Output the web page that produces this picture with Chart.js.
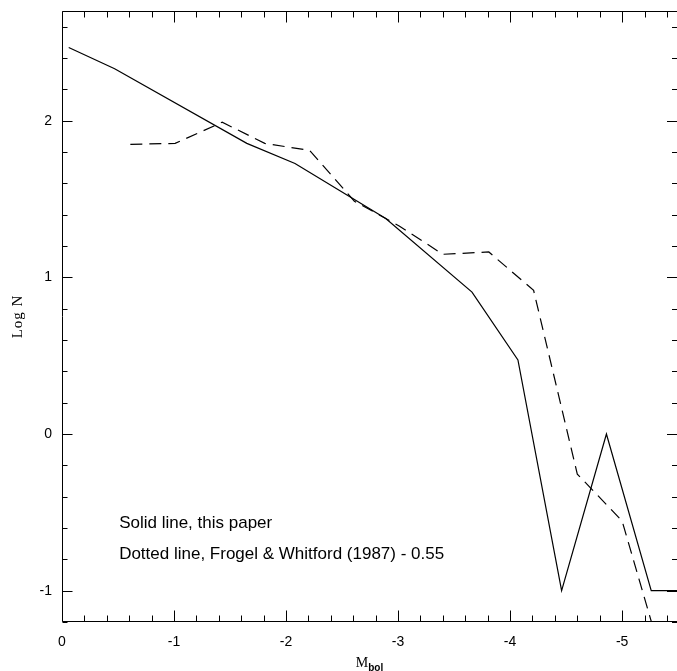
<!DOCTYPE html>
<html>
<head>
<meta charset="utf-8">
<script src="https://cdn.jsdelivr.net/npm/chart.js@4"></script>
<style>
  body { margin: 0; background: #fff; }
  #lf { display: block; }
</style>
</head>
<body>
<canvas id="lf" width="677" height="671"></canvas>
<script>
// bolometric luminosity function, log N per M_bol bin
const solidMbol = [-0.06, -0.47, -1.65, -2.08, -2.89, -3.66, -4.07, -4.46, -4.86, -5.26, -5.66];
const solidLogN = [2.467, 2.331, 1.855, 1.727, 1.376, 0.906, 0.473, -1.0, 0.0, -1.0, -1.0];

// Frogel & Whitford (1987), shifted by -0.55
const fwMbol = [-0.61, -1.01, -1.43, -1.81, -2.21, -2.61, -3.01, -3.40, -3.81, -4.21, -4.60, -5.00, -5.40];
const fwLogN = [1.849, 1.855, 1.99, 1.855, 1.81, 1.486, 1.328, 1.147, 1.162, 0.917, -0.256, -0.555, -1.54];

const xTicks = [0, -1, -2, -3, -4, -5];
const yTicks = [-1, 0, 1, 2];
const notes = ['Solid line, this paper', 'Dotted line, Frogel & Whitford (1987) - 0.55'];

const sans = "'Liberation Sans', Arial, sans-serif";
const serif = "'Liberation Serif', 'Times New Roman', serif";

const toPoints = (xs, ys) => xs.map((v, i) => ({ x: v, y: ys[i] }));

// frame with inward major/minor ticks on all four sides, notes and axis titles
const frameTicks = {
  id: 'frameTicks',
  afterDraw(chart) {
    const { ctx, chartArea: a, scales: { x, y } } = chart;
    ctx.save();
    ctx.strokeStyle = '#000';
    ctx.lineWidth = 1;
    ctx.beginPath();
    const L = a.left + 0.5, R = a.right + 0.5, T = a.top + 0.5, B = a.bottom - 0.5;
    ctx.moveTo(L, T); ctx.lineTo(R, T);
    ctx.moveTo(L, T); ctx.lineTo(L, B);
    ctx.moveTo(L, B); ctx.lineTo(R, B);
    ctx.moveTo(R, T); ctx.lineTo(R, B);

    for (let i = 0; i <= 27; i++) {
      const v = -i * 0.2;
      if (v < x.min) break;
      const px = Math.round(x.getPixelForValue(v)) + 0.5;
      const len = i % 5 === 0 ? 11 : 6;
      ctx.moveTo(px, B); ctx.lineTo(px, B - len);
      ctx.moveTo(px, T); ctx.lineTo(px, T + len);
    }
    for (let i = -6; i <= 13; i++) {
      const v = i * 0.2;
      if (v > y.max) break;
      const py = Math.round(y.getPixelForValue(v)) + 0.5;
      const len = i % 5 === 0 ? 10 : 5;
      ctx.moveTo(L, py); ctx.lineTo(L + len, py);
      ctx.moveTo(a.right, py); ctx.lineTo(a.right - len, py);
    }
    ctx.stroke();

    ctx.fillStyle = '#000';
    ctx.font = '17px ' + sans;
    ctx.textAlign = 'left';
    ctx.textBaseline = 'alphabetic';
    ctx.fillText(notes[0], x.getPixelForValue(-0.51), y.getPixelForValue(-0.6));
    ctx.fillText(notes[1], x.getPixelForValue(-0.51), y.getPixelForValue(-0.8));

    // y title
    ctx.save();
    ctx.translate(22, (a.top + a.bottom) / 2);
    ctx.rotate(-Math.PI / 2);
    ctx.font = '15px ' + serif;
    ctx.letterSpacing = '1px';
    ctx.textAlign = 'center';
    ctx.fillText('Log N', 0, 0);
    ctx.restore();

    // x title with subscript
    ctx.font = '14px ' + serif;
    const wM = ctx.measureText('M').width;
    ctx.font = 'bold 10px ' + sans;
    const wSub = ctx.measureText('bol').width;
    const x0 = (a.left + a.right) / 2 - (wM + wSub) / 2;
    ctx.font = '14px ' + serif;
    ctx.fillText('M', x0, 667);
    ctx.font = 'bold 10px ' + sans;
    ctx.fillText('bol', x0 + wM, 671);
    ctx.restore();
  }
};

new Chart(document.getElementById('lf'), {
  type: 'scatter',
  data: {
    datasets: [
      {
        label: 'this paper',
        data: toPoints(solidMbol, solidLogN),
        showLine: true,
        borderColor: '#000',
        borderWidth: 1.2,
        pointRadius: 0,
        tension: 0,
        fill: false
      },
      {
        label: 'Frogel & Whitford (1987) - 0.55',
        data: toPoints(fwMbol, fwLogN),
        showLine: true,
        borderColor: '#000',
        borderWidth: 1.2,
        borderDash: [12, 7],
        pointRadius: 0,
        tension: 0,
        fill: false
      }
    ]
  },
  options: {
    responsive: false,
    animation: false,
    layout: { padding: { top: 11, right: 0, bottom: 0, left: 0 } },
    plugins: {
      legend: { display: false },
      tooltip: { enabled: false }
    },
    scales: {
      x: {
        type: 'linear',
        reverse: true,
        min: -5.49,
        max: 0,
        afterBuildTicks: s => { s.ticks = xTicks.map(v => ({ value: v })); },
        afterFit: s => { s.height = 49; s.paddingLeft = 0; s.paddingRight = 0; },
        grid: { display: false, drawTicks: false },
        border: { display: false },
        ticks: {
          padding: 12,
          color: '#000',
          autoSkip: false,
          maxRotation: 0,
          font: { family: sans, size: 14 },
          callback: v => String(v)
        }
      },
      y: {
        type: 'linear',
        min: -1.2,
        max: 2.7,
        afterBuildTicks: s => { s.ticks = yTicks.map(v => ({ value: v })); },
        afterFit: s => { s.width = 62; s.paddingTop = 0; s.paddingBottom = 0; },
        grid: { display: false, drawTicks: false },
        border: { display: false },
        ticks: {
          padding: 10,
          color: '#000',
          autoSkip: false,
          font: { family: sans, size: 14 },
          callback: v => String(v)
        }
      }
    }
  },
  plugins: [frameTicks]
});
</script>
</body>
</html>
